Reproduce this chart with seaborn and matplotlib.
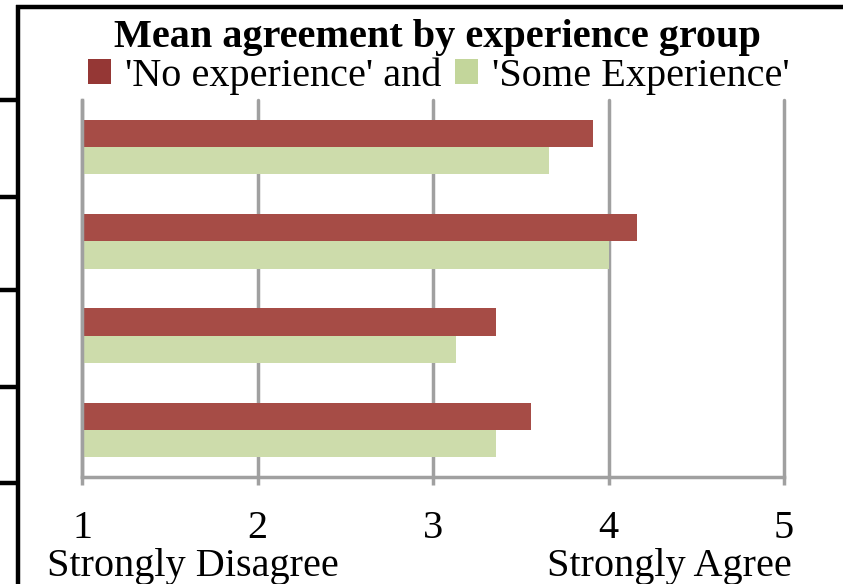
import matplotlib
matplotlib.use("Agg")
import matplotlib.pyplot as plt
from matplotlib.lines import Line2D
from matplotlib.patches import Patch
import seaborn as sns
import pandas as pd

# Mean agreement (1 = Strongly Disagree ... 5 = Strongly Agree) per statement
statements = ["Statement 1", "Statement 2", "Statement 3", "Statement 4"]
no_experience = [3.91, 4.16, 3.36, 3.56]
some_experience = [3.66, 4.00, 3.13, 3.36]
groups = ["'No experience' and", "'Some Experience'"]
ticks = [1, 2, 3, 4, 5]
scale_ends = ["Strongly Disagree", "Strongly Agree"]
title = "Mean agreement by experience group"

df = pd.DataFrame({
    "statement": statements * 2,
    "mean": no_experience + some_experience,
    "group": [groups[0]] * len(statements) + [groups[1]] * len(statements),
})

sns.set_theme(style="white")
plt.rcParams["font.family"] = ["Liberation Serif", "DejaVu Serif"]
plt.rcParams["text.color"] = "black"
plt.rcParams["xtick.color"] = "black"

FS = 29
W, H = 843, 584
fig = plt.figure(figsize=(W / 100, H / 100), dpi=100)
ax = fig.add_axes([82 / W, 1 - 477 / H, (784 - 82) / W, (477 - 100) / H])

bar_colors = ["#A64C46", "#CDDCAB"]
legend_colors = ["#953735", "#C3D69B"]
grid_gray = "#A0A0A0"
grid_lw = 2.5

sns.barplot(data=df, y="statement", x="mean", hue="group", palette=bar_colors,
            orient="h", width=0.58, linewidth=0, saturation=1, legend=False, ax=ax)

ax.set_xlim(1, 5)
ax.set_ylim(3.5, -0.5)
ax.set_xticks(ticks)
ax.set_xticklabels([str(t) for t in ticks])
ax.set_yticks([])
ax.set_xlabel("")
ax.set_ylabel("")
ax.grid(axis="x", color=grid_gray, linewidth=grid_lw)
ax.set_axisbelow(True)
for gl in ax.get_xgridlines():
    gl.set_clip_on(False)
for side in ("top", "right"):
    ax.spines[side].set_visible(False)
for side in ("left", "bottom"):
    ax.spines[side].set_color(grid_gray)
    ax.spines[side].set_linewidth(grid_lw)
ax.tick_params(axis="x", direction="out", length=6, width=grid_lw, color=grid_gray,
               labelsize=FS, pad=18, labelcolor="black", bottom=True)

# Title and legend
fig.text(437 / W, 1 - 47 / H, title, ha="center", va="baseline",
         fontsize=FS, fontweight="bold", color="black")
handles = [Patch(facecolor=c, edgecolor="none") for c in legend_colors]
leg = fig.legend(handles=handles, labels=groups, loc="center",
                 bbox_to_anchor=(439 / W, 1 - 76 / H), ncol=2, frameon=False,
                 fontsize=FS, handlelength=0.57, handleheight=0.55,
                 handletextpad=0.36, columnspacing=0.33, borderpad=0, borderaxespad=0)
for t in leg.get_texts():
    t.set_color("black")

# Scale end labels under the axis
fig.text(47 / W, 1 - 576 / H, scale_ends[0], ha="left", va="baseline", fontsize=FS)
fig.text(792 / W, 1 - 576 / H, scale_ends[1], ha="right", va="baseline", fontsize=FS)

# Surrounding table rules
lw = 3.2
fig.add_artist(Line2D([18 / W, 18 / W], [0, 1 - 5 / H], color="black", lw=lw,
                      solid_capstyle="butt", transform=fig.transFigure))
fig.add_artist(Line2D([16 / W, 1], [1 - 7 / H, 1 - 7 / H], color="black", lw=lw,
                      solid_capstyle="butt", transform=fig.transFigure))
for yr in [100, 197, 290, 387, 483]:
    fig.add_artist(Line2D([0, 18 / W], [1 - yr / H, 1 - yr / H], color="black",
                          lw=lw, solid_capstyle="butt", transform=fig.transFigure))

fig.savefig("out.png", dpi=100)
